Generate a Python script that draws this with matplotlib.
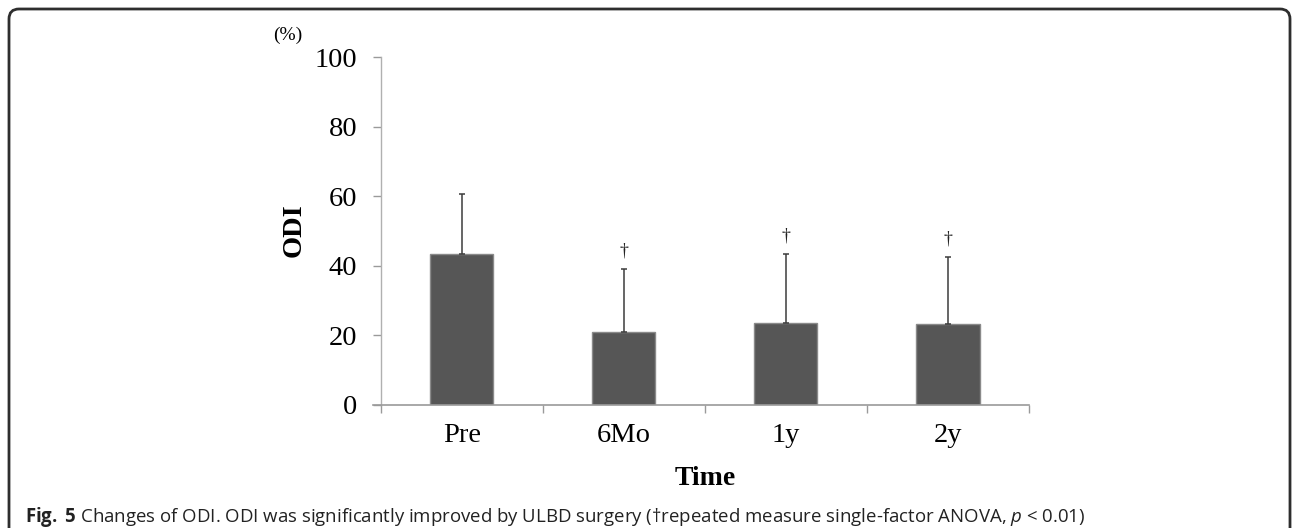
import matplotlib
matplotlib.use('Agg')
import matplotlib.pyplot as plt
from matplotlib.patches import FancyBboxPatch

# data
periods = ['Pre', '6Mo', '1y', '2y']
odi_mean = [43.4, 20.9, 23.6, 23.2]
odi_sd = [17.2, 18.1, 19.8, 19.3]
signif = ['', '\u2020', '\u2020', '\u2020']
yticks = [0, 20, 40, 60, 80, 100]

caption = (r'$\mathbf{Fig.}$ $\mathbf{5}$ Changes of ODI. ODI was significantly improved by ULBD surgery '
           '(\u2020repeated measure single-factor ANOVA, $p$ < 0.01)')

W, H = 1292, 528
SERIF = ['Liberation Serif', 'DejaVu Serif']

plt.rcParams['mathtext.fontset'] = 'custom'
plt.rcParams['mathtext.rm'] = 'Open Sans'
plt.rcParams['mathtext.it'] = 'Open Sans:italic'
plt.rcParams['mathtext.bf'] = 'Open Sans:bold'

fig = plt.figure(figsize=(W / 100, H / 100), dpi=100)
ax = fig.add_axes([380.7 / W, 1 - 405 / H, (1029 - 380.7) / W, (405 - 57.3) / H])

x = list(range(len(periods)))
ax.bar(x, odi_mean, width=0.39, color='#565656', edgecolor='#8a8a8a', linewidth=1, zorder=2)
ax.errorbar(x, odi_mean, yerr=[[0] * len(x), odi_sd], fmt='none', ecolor='#3c3c3c',
            elinewidth=1.1, capsize=2.5, capthick=1.1, zorder=3)
for xi, m, s, mark in zip(x, odi_mean, odi_sd, signif):
    if mark:
        ax.annotate(mark, (xi, m + s), xytext=(0, 13), textcoords='offset points',
                    ha='center', va='center', fontsize=13, family=SERIF, color='#222222')

ax.set_xlim(-0.5, len(periods) - 0.5)
ax.set_ylim(0, 100)
ax.set_yticks(yticks)
ax.set_yticklabels([str(v) for v in yticks], family=SERIF, fontsize=20.5)
ax.set_xticks(x)
ax.set_xticklabels(periods, family=SERIF, fontsize=20.5)
ax.set_xticks([i - 0.5 for i in range(len(periods) + 1)], minor=True)
ax.tick_params(axis='x', which='major', length=0, pad=13)
ax.tick_params(axis='x', which='minor', length=6, width=1, color='#9a9a9a', direction='out')
ax.tick_params(axis='y', length=6, width=1, color='#9a9a9a', direction='out', pad=11)

for side in ['top', 'right', 'bottom']:
    ax.spines[side].set_visible(False)
ax.spines['left'].set_color('#b0b0b0')
ax.spines['left'].set_linewidth(1)
ax.axhline(0, xmin=-0.012, xmax=1, color='#9a9a9a', lw=1.2, clip_on=False, zorder=4)

fig.text(293.7 / W, 1 - 230.5 / H, 'ODI', rotation=90, ha='center', va='center',
         family=SERIF, fontsize=20.5, fontweight='bold')
fig.text(705 / W, 1 - 485 / H, 'Time', ha='center', va='baseline',
         family=SERIF, fontsize=20, fontweight='bold')
fig.text(288 / W, 1 - 35 / H, '(%)', ha='center', va='center', family=SERIF, fontsize=14)

fig.text(25 / W, 1 - 522 / H, caption, ha='left', va='baseline',
         family=['Open Sans', 'DejaVu Sans'], fontsize=13.4, color='#222222')

frame = FancyBboxPatch((9, -30), 1281, H - 9 + 30, boxstyle='round,pad=0,rounding_size=10',
                       transform=None, facecolor='none', edgecolor='#2e2e2e', linewidth=2)
fig.patches.append(frame)

fig.savefig('out.png', dpi=100)
plt.close(fig)
